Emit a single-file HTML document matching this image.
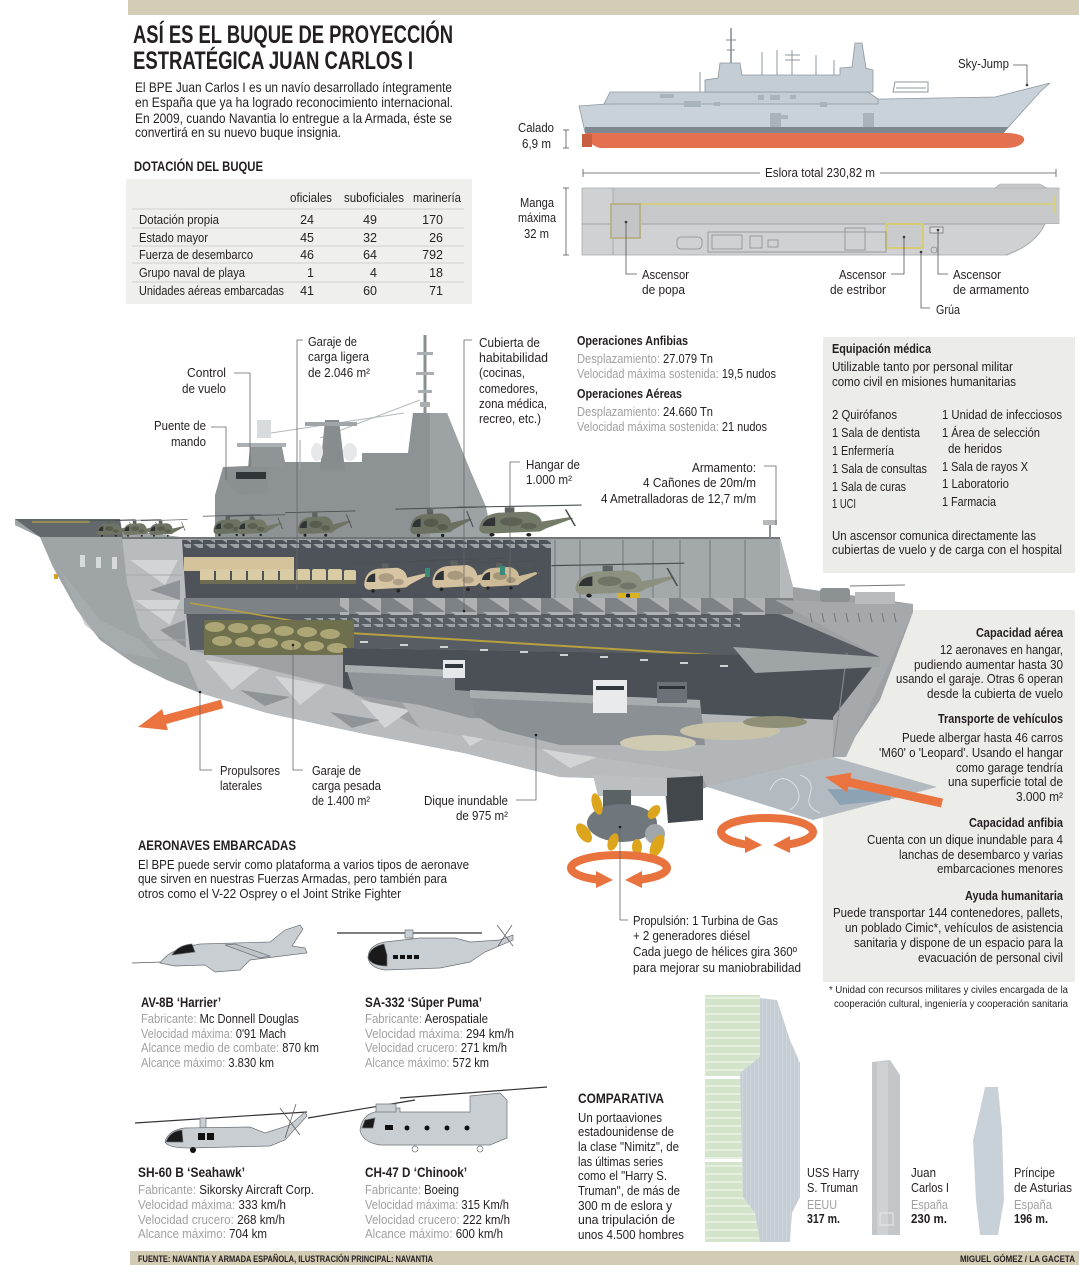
<!DOCTYPE html>
<html><head><meta charset="utf-8"><style>
html,body{margin:0;padding:0;background:#fff;}
svg{display:block;font-family:"Liberation Sans",sans-serif;font-size:13px;}
text{fill:#231f20;}
.b{font-weight:bold;}
.g{fill:#a0a0a0;}
</style></head><body>
<svg width="1079" height="1265" viewBox="0 0 1079 1265" xmlns="http://www.w3.org/2000/svg">
<defs>
<pattern id="saw" width="12" height="8" patternUnits="userSpaceOnUse"><path d="M1,0 h10 v7 z" fill="#9ca1a5"/></pattern>
<pattern id="tri" width="32" height="18" patternUnits="userSpaceOnUse"><path d="M3,0 h26 v18 z" fill="#aeb2b5"/></pattern>
<pattern id="grn" width="10" height="8" patternUnits="userSpaceOnUse"><rect width="10" height="8" fill="#d3e4cb"/><rect y="5" width="10" height="2" fill="#e4efdf"/></pattern>
<pattern id="vst" width="4" height="10" patternUnits="userSpaceOnUse"><rect width="4" height="10" fill="#c6ced5"/><rect x="2" width="1" height="10" fill="#ced5db"/></pattern>
<g id="heli">
 <line x1="-12" y1="3" x2="66" y2="1" stroke="#4a4f52" stroke-width="1"/>
 <rect x="18" y="3" width="6" height="5" fill="#5c625f"/>
 <path d="M2,22 Q3,10 14,8 L32,7 Q40,9 41,16 L58,12 L61,13 L44,22 L40,25 L6,27 Q2,26 2,22 Z"/>
 <ellipse cx="22" cy="16" rx="7" ry="4" fill="#000" fill-opacity="0.2"/>
 <ellipse cx="33" cy="20" rx="5" ry="3" fill="#000" fill-opacity="0.18"/>
 <path d="M4,20 Q5,13 12,12 L12,20 Z" fill="#2e3336"/>
 <line x1="56" y1="5" x2="62" y2="20" stroke="#4a4f52"/>
 <circle cx="10" cy="28" r="1.6" fill="#222"/><circle cx="33" cy="28" r="1.6" fill="#222"/>
</g>
</defs>

<!-- header / footer bands -->
<rect x="128" y="0" width="951" height="15" fill="#d3cdb6"/>
<rect x="130" y="1251" width="949" height="14" fill="#d2ccb4"/>

<!-- panels -->
<rect x="126" y="179" width="346" height="125" fill="#efefed"/>
<rect x="823" y="337" width="252" height="236" fill="#ecece8"/>
<rect x="823" y="610" width="252" height="372" fill="#ecece8"/>

<!-- ===== TOP RIGHT SIDE PROFILE ===== -->
<polygon points="579,106 606,104 995,97 1050,83 1040,92 1004,132 585,132" fill="#c9d2d9" stroke="#8d979f" stroke-width="0.8"/>
<polygon points="604,104 610,92 868,92 878,99 878,104" fill="#c4cdd4" stroke="#8d979f" stroke-width="0.8"/>
<polygon points="705,92 705,80 718,78 720,63 740,63 742,75 840,75 840,68 852,67 855,43 862,43 866,68 873,70 873,92" fill="#c4cdd4" stroke="#8d979f" stroke-width="0.8"/>
<line x1="731" y1="63" x2="731" y2="28" stroke="#7f8a92" stroke-width="1.5"/>
<line x1="726" y1="40" x2="736" y2="40" stroke="#7f8a92"/><line x1="727" y1="50" x2="735" y2="50" stroke="#7f8a92"/>
<g stroke="#8d979f" stroke-width="1">
<line x1="700" y1="92" x2="700" y2="72"/><line x1="762" y1="75" x2="762" y2="52"/><line x1="777" y1="75" x2="777" y2="50"/>
<line x1="816" y1="75" x2="816" y2="55"/><line x1="834" y1="75" x2="834" y2="60"/><line x1="785" y1="55" x2="800" y2="55"/>
<line x1="785" y1="60" x2="800" y2="60"/><line x1="792" y1="50" x2="792" y2="75"/>
</g>
<polygon points="893,92 895,82 928,82 928,92" fill="none" stroke="#8d979f"/>
<line x1="896" y1="88" x2="926" y2="88" stroke="#8d979f"/>
<g fill="#a9b3ba"><rect x="660" y="94" width="14" height="4"/><rect x="684" y="101" width="17" height="6"/><rect x="714" y="102" width="6" height="4"/>
<rect x="758" y="95" width="6" height="5"/><rect x="770" y="95" width="10" height="5"/><rect x="790" y="95" width="6" height="4"/><rect x="820" y="102" width="7" height="5"/>
<rect x="770" y="113" width="11" height="14"/><rect x="863" y="113" width="11" height="14"/><rect x="773" y="115" width="15" height="4"/></g>
<polygon points="585,127 1008,127 1004,133 585,133" fill="#7e8890"/>
<path d="M585,133 L1008,133 Q1026,134 1024,141 Q1020,148 1005,148 L600,148 Q592,146 588,140 Z" fill="#e3714f"/>
<rect x="582" y="134" width="10" height="13" fill="#c85f3f"/>

<!-- top-down plan -->
<rect x="582" y="188" width="477" height="67" fill="#cfd1d3" stroke="#a9abad" stroke-width="0.8"/>
<rect x="613" y="189" width="446" height="35" fill="#c6c8ca"/>
<line x1="582" y1="224" x2="1059" y2="224" stroke="#a2a4a6"/>
<line x1="613" y1="188" x2="613" y2="255" stroke="#a9abad"/>
<polygon points="995,188 1000,184 1040,184 1047,188" fill="#c6c8ca" stroke="#a9abad" stroke-width="0.6"/>
<line x1="640" y1="204" x2="1054" y2="204" stroke="#d6cf78" stroke-width="1.8"/>
<line x1="1054" y1="196" x2="1054" y2="213" stroke="#d6cf78" stroke-width="1.8"/>
<path d="M1006,256 Q1035,245 1045,224 L1060,224 L1060,256 Z" fill="#fff"/>
<path d="M1006,255 Q1035,245 1045,224" fill="none" stroke="#a9abad"/>
<rect x="611" y="204" width="29" height="34" fill="#c3c5c7" stroke="#b8b38a" stroke-width="2"/>
<rect x="886" y="224" width="37" height="24" fill="#c9cbcd" stroke="#d4cd72" stroke-width="2"/>
<rect x="930" y="227" width="13" height="6" fill="#dcdcdc" stroke="#777" stroke-width="0.8"/>
<g fill="none" stroke="#8a8c8e" stroke-width="0.8">
<rect x="677" y="237" width="25" height="12" rx="4"/><rect x="708" y="232" width="178" height="20"/>
<rect x="712" y="235" width="30" height="14"/><rect x="750" y="236" width="12" height="12"/><rect x="768" y="240" width="10" height="7"/>
<rect x="845" y="228" width="20" height="22"/><circle cx="934" cy="250" r="3"/>
</g>
<g fill="#333"><circle cx="626" cy="222" r="1.3"/><circle cx="904" cy="237" r="1.3"/><circle cx="921" cy="252" r="1.3"/><circle cx="938" cy="230" r="1.3"/><circle cx="1027" cy="85" r="1.3"/></g>
<g stroke="#555" stroke-width="0.8" fill="none">
<polyline points="626,222 626,274 637,274"/><polyline points="904,237 904,274 891,274"/>
<polyline points="921,252 921,308 930,308"/><polyline points="938,230 938,274 948,274"/>
<polyline points="1013,65 1027,65 1027,85"/>
<line x1="566" y1="130" x2="566" y2="148"/><line x1="563" y1="130" x2="569" y2="130"/><line x1="563" y1="148" x2="569" y2="148"/>
<line x1="566" y1="188" x2="566" y2="255"/><line x1="563" y1="188" x2="569" y2="188"/><line x1="563" y1="255" x2="569" y2="255"/>
<line x1="583" y1="173" x2="760" y2="173"/><line x1="880" y1="173" x2="1056" y2="173"/>
<line x1="583" y1="169" x2="583" y2="177"/><line x1="1056" y1="169" x2="1056" y2="177"/>
</g>

<!-- ===== MAIN CUTAWAY SHIP ===== -->
<polygon points="15,519 90,526 180,537 780,537 793,587 913,604 913,612 880,700 845,752 833,757 707,787 700,790 700,820 668,822 665,792 593,778 560,777 464,753 360,733 267,713 200,693 167,680 133,663 100,640 77,610 53,567 40,537 15,525" fill="#9da1a4"/>
<polygon points="15,519 90,526 180,537 122,537 127,583 140,627 157,647 187,663 200,693 167,680 133,663 100,640 77,610 53,567 40,537 15,525" fill="#9fa4a7"/>
<polygon points="15,519 120,519 123,537 40,537" fill="#62686c"/>
<line x1="32" y1="522" x2="90" y2="522" stroke="#b3a54a" stroke-width="1.2"/>
<polygon points="60,570 100,620 140,640 160,660 120,652 85,625" fill="#acb0b3" opacity="0.6"/>
<g fill="#d7dadc"><rect x="80" y="555" width="5" height="12"/><rect x="96" y="557" width="5" height="11"/><rect x="112" y="557" width="5" height="12"/></g>
<rect x="54" y="574" width="4" height="5" fill="#d4a21c"/>
<polygon points="122,537 182,537 186,600 190,650 343,688 420,728 560,752 700,772 700,790 593,778 560,777 464,753 360,733 267,713 200,693 187,663 157,647 140,627 127,583" fill="#b9bcbe"/>
<g fill="#d2d5d6"><polygon points="205,660 260,668 232,690"/><polygon points="275,676 325,685 300,705"/><polygon points="360,700 410,710 385,728"/><polygon points="450,720 500,730 470,746"/><polygon points="130,560 178,560 165,585"/><polygon points="135,600 180,600 170,625"/><polygon points="540,748 600,756 570,768"/></g>
<g fill="#8f9498"><polygon points="150,590 180,580 180,600"/><polygon points="160,630 185,620 186,648"/><polygon points="240,690 290,697 265,706"/><polygon points="330,712 380,720 352,728"/></g>
<g stroke="#a6aaac" stroke-width="1"><line x1="125" y1="575" x2="182" y2="575"/><line x1="130" y1="610" x2="185" y2="610"/><line x1="145" y1="640" x2="188" y2="640"/></g>
<polygon points="182,540 551,540 551,601 186,601" fill="#4d5358"/>
<rect x="184" y="540" width="367" height="8" fill="url(#saw)"/>
<rect x="551" y="537" width="229" height="63" fill="#a3a8ab"/>
<g stroke="#8a8f92" stroke-width="2"><line x1="555" y1="540" x2="555" y2="600"/><line x1="580" y1="540" x2="580" y2="600"/><line x1="623" y1="540" x2="623" y2="600"/><line x1="653" y1="540" x2="653" y2="600"/><line x1="680" y1="540" x2="680" y2="600"/><line x1="710" y1="540" x2="710" y2="600"/><line x1="745" y1="540" x2="745" y2="600"/></g>
<polygon points="780,537 793,587 793,601 780,601" fill="#b5b9bb"/>
<line x1="122" y1="538" x2="780" y2="538" stroke="#70767a" stroke-width="2"/>
<rect x="184" y="557" width="110" height="14" fill="#d4c39a"/>
<g fill="#d9cba3"><rect x="200" y="569" width="14" height="13" rx="2"/><rect x="216" y="569" width="14" height="13" rx="2"/><rect x="232" y="569" width="14" height="13" rx="2"/><rect x="248" y="569" width="14" height="13" rx="2"/><rect x="264" y="569" width="14" height="13" rx="2"/><rect x="280" y="569" width="14" height="13" rx="2"/><rect x="296" y="569" width="14" height="13" rx="2"/><rect x="312" y="569" width="14" height="13" rx="2"/><rect x="328" y="569" width="14" height="13" rx="2"/><rect x="344" y="570" width="12" height="12" rx="2"/></g>
<rect x="200" y="580" width="156" height="4" fill="#6f6a52"/>
<use href="#heli" transform="translate(362,560) scale(1.1)" fill="#d6c4a3"/>
<use href="#heli" transform="translate(430,557) scale(1.15)" fill="#d2c09e"/>
<use href="#heli" transform="translate(478,560) scale(1.0)" fill="#cdbb98"/>
<g fill="#3a8a7c"><rect x="425" y="568" width="5" height="9"/><rect x="500" y="566" width="5" height="9"/></g>
<use href="#heli" transform="translate(572,562) scale(1.7,1.2)" fill="#8c917f"/>
<g fill="#d9b21f"><rect x="617" y="593" width="9" height="12"/><rect x="630" y="593" width="9" height="12"/></g>
<polygon points="186,612 775,612 880,657 343,648 190,650" fill="#575d62"/>
<rect x="184" y="598" width="609" height="16" fill="#7d8286"/>
<rect x="340" y="598" width="430" height="17" fill="url(#tri)"/>
<rect x="300" y="618" width="440" height="9" fill="url(#saw)"/>
<line x1="190" y1="603" x2="300" y2="622" stroke="#b8a040" stroke-width="1.6"/>
<line x1="300" y1="630" x2="745" y2="657" stroke="#b8a040" stroke-width="2"/>
<rect x="204" y="620" width="150" height="35" fill="#6e6f4c"/>
<g fill="#aca676"><ellipse cx="215" cy="627" rx="10" ry="5"/><ellipse cx="238" cy="628" rx="10" ry="5"/><ellipse cx="261" cy="629" rx="10" ry="5"/><ellipse cx="284" cy="631" rx="10" ry="5"/><ellipse cx="307" cy="632" rx="10" ry="5"/><ellipse cx="330" cy="634" rx="10" ry="5"/>
<ellipse cx="222" cy="641" rx="10" ry="5"/><ellipse cx="245" cy="642" rx="10" ry="5"/><ellipse cx="268" cy="643" rx="10" ry="5"/><ellipse cx="291" cy="645" rx="10" ry="5"/><ellipse cx="314" cy="646" rx="10" ry="5"/><ellipse cx="337" cy="648" rx="10" ry="5"/></g>
<polygon points="343,648 880,657 835,720 620,718 420,702 343,688" fill="#4a5055"/>
<g stroke="#f2f2f2" stroke-width="1.6"><line x1="360" y1="642" x2="368" y2="642"/><line x1="400" y1="645" x2="408" y2="645"/><line x1="440" y1="647" x2="448" y2="647"/><line x1="480" y1="650" x2="488" y2="650"/><line x1="520" y1="652" x2="528" y2="652"/><line x1="560" y1="655" x2="568" y2="655"/><line x1="600" y1="657" x2="608" y2="657"/><line x1="640" y1="660" x2="648" y2="660"/><line x1="680" y1="663" x2="688" y2="663"/><line x1="720" y1="666" x2="728" y2="666"/></g>
<polygon points="400,700 835,720 833,757 707,787 700,772 560,752 420,728" fill="#b2b6b8"/>
<polygon points="345,665 455,670 455,690 600,700 600,722 470,718 420,705 355,695" fill="#8e9498"/>
<polygon points="345,665 455,670 455,677 345,672" fill="#a9aeb1"/>
<rect x="443" y="660" width="22" height="18" fill="#e5e8ea"/><rect x="445" y="664" width="18" height="4" fill="#30363a"/>
<polygon points="470,690 700,700 705,745 560,745 500,730 475,715" fill="#8a9094"/>
<polygon points="470,690 700,700 700,708 470,698" fill="#a7acaf"/>
<polygon points="593,680 627,680 627,713 593,713" fill="#e8eaec"/><rect x="596" y="686" width="28" height="4" fill="#30363a"/>
<rect x="657" y="682" width="30" height="21" fill="#6b7176"/><rect x="659" y="686" width="26" height="3" fill="#2c3236"/>
<ellipse cx="658" cy="743" rx="38" ry="8" fill="#cfcbb2"/>
<ellipse cx="730" cy="731" rx="50" ry="9" fill="#c8c3a8"/>
<ellipse cx="775" cy="722" rx="32" ry="6" fill="#8e8f74"/>
<polygon points="775,600 913,604 913,612 846,757 833,757 833,717 880,657" fill="#a5a9ac"/>
<g stroke="#6f7579" stroke-width="1"><line x1="810" y1="613" x2="812" y2="622"/><line x1="822" y1="613" x2="824" y2="622"/><line x1="834" y1="613" x2="836" y2="622"/><line x1="846" y1="613" x2="848" y2="622"/><line x1="858" y1="613" x2="860" y2="622"/><line x1="870" y1="613" x2="872" y2="622"/><line x1="882" y1="613" x2="884" y2="622"/><line x1="894" y1="613" x2="896" y2="622"/></g>
<line x1="847" y1="653" x2="833" y2="757" stroke="#8a8f92"/>
<polygon points="733,647 880,657 880,667 755,673" fill="#9fa4a7"/>
<rect x="820" y="588" width="30" height="14" rx="3" fill="#8c9194"/>
<rect x="855" y="592" width="40" height="12" fill="#b8bcbe"/>
<line x1="850" y1="586" x2="905" y2="585" stroke="#777" stroke-width="1"/>
<line x1="770" y1="520" x2="770" y2="538" stroke="#8a8f92" stroke-width="2"/><rect x="763" y="520" width="14" height="5" fill="#b5b9bb"/>
<polygon points="665,778 703,776 703,820 668,823" fill="#41474b"/>
<polygon points="593,775 667,778 667,796 598,796" fill="#bcc0c2"/>
<polygon points="707,787 833,757 937,787 813,820" fill="#b3bbc1"/>
<path d="M770,790 q10,-20 25,-5 q10,15 -5,25 M800,775 q15,5 10,20 q-5,12 10,18" fill="none" stroke="#e3e8ec" stroke-width="0.8"/>
<polygon points="827,789 893,790 890,800 840,805" fill="#8ca3b6"/>

<!-- island -->
<line x1="425" y1="335" x2="425" y2="413" stroke="#8a8f92" stroke-width="3"/>
<g fill="#a9aeb1"><rect x="417" y="352" width="16" height="3"/><rect x="416" y="372" width="18" height="3"/><rect x="418" y="390" width="14" height="3"/><rect x="420" y="402" width="10" height="5"/></g>
<line x1="271" y1="433" x2="404" y2="413" stroke="#b5b9bb" stroke-width="1"/>
<line x1="320" y1="438" x2="420" y2="400" stroke="#b5b9bb" stroke-width="1"/>
<polygon points="215,537 215,495 223,467 270,465 285,462 362,462 362,453 408,453 413,413 447,413 470,470 486,507 492,537" fill="#8d9295"/>
<polygon points="430,413 447,413 470,470 486,507 492,537 430,537" fill="#9da2a5"/>
<polygon points="223,467 268,467 268,493 240,495 228,485" fill="#8a8f92"/>
<rect x="236" y="472" width="30" height="7" fill="#2f3538"/>
<polygon points="250,447 282,447 286,467 248,467" fill="#8f9497"/>
<rect x="237" y="443" width="49" height="4" fill="#aab0b3"/>
<rect x="257" y="420" width="14" height="18" fill="#d8dbdd"/>
<polygon points="325,420 339,420 345,470 320,470" fill="#878c8f"/>
<rect x="305" y="422" width="52" height="4" fill="#a0a5a8"/>
<ellipse cx="317" cy="452" rx="6" ry="9" fill="#e6e8e9"/>
<ellipse cx="350" cy="452" rx="7" ry="9" fill="#e6e8e9"/>
<line x1="300" y1="440" x2="300" y2="470" stroke="#a0a5a8"/>
<use href="#heli" transform="translate(96,519) scale(0.6)" fill="#6e7463"/>
<use href="#heli" transform="translate(122,519) scale(0.6)" fill="#727866"/>
<use href="#heli" transform="translate(148,519) scale(0.6)" fill="#6e7463"/>
<use href="#heli" transform="translate(212,514) scale(0.75)" fill="#6b7160"/>
<use href="#heli" transform="translate(236,514) scale(0.75)" fill="#727866"/>
<use href="#heli" transform="translate(296,510) scale(0.9)" fill="#6e7463"/>
<use href="#heli" transform="translate(408,506) scale(1.05)" fill="#6b7160"/>
<use href="#heli" transform="translate(476,504) scale(1.6,1.1)" fill="#747a68"/>

<!-- arrows -->
<polygon points="138,727 162.1,709 163.8,715.3 220.8,699.7 223.2,708.3 166.2,724 167.9,730.2" fill="#ea7340"/>
<polygon points="825,777 851.6,772.6 850.4,778 943,798.6 941,807.4 848.4,786.8 847.2,792.2" fill="#ea7340"/>
<path d="M747.6,844.7 A46,14 0 1 1 786.4,844.7" fill="none" stroke="#e8733f" stroke-width="8"/>
<polygon points="745,836 745,853 762,845" fill="#e8733f"/><polygon points="790,836 790,853 773,845" fill="#e8733f"/>
<rect x="603" y="790" width="28" height="18" fill="#5a6266"/>
<ellipse cx="622" cy="823" rx="35" ry="19" fill="#6f777c"/>
<circle cx="655" cy="834" r="10" fill="#a0a6a9"/>
<g fill="#dca51c"><ellipse cx="597" cy="804" rx="5" ry="11" transform="rotate(-15 597 804)"/><ellipse cx="584" cy="833" rx="6" ry="11" transform="rotate(-35 584 833)"/><ellipse cx="613" cy="842" rx="5" ry="9" transform="rotate(20 613 842)"/><ellipse cx="657" cy="846" rx="6" ry="12" transform="rotate(25 657 846)"/><ellipse cx="637" cy="847" rx="5" ry="8"/><ellipse cx="654" cy="812" rx="5" ry="8" transform="rotate(40 654 812)"/></g>
<path d="M598.7,879.8 A48,13 0 1 1 639.3,879.8" fill="none" stroke="#e8733f" stroke-width="8"/>
<polygon points="596,871 596,888 613,880" fill="#e8733f"/><polygon points="642,871 642,888 625,880" fill="#e8733f"/>

<!-- leader lines main -->
<g stroke="#666" stroke-width="0.8" fill="none">
<polyline points="234,373 250,373 250,467"/><polyline points="211,427 226,427 226,480"/>
<polyline points="303,340 297,340 297,590"/><polyline points="472,340 464,340 464,611"/>
<polyline points="520,462 510,462 510,583"/><polyline points="764,466 776,466 776,525"/>
<polyline points="200,692 200,770 212,770"/><polyline points="293,645 293,770 303,770"/>
<polyline points="536,735 536,800 516,800"/><polyline points="620,827 620,920 628,920"/>
</g>
<g fill="#222"><circle cx="200" cy="692" r="1.3"/><circle cx="293" cy="645" r="1.3"/><circle cx="536" cy="735" r="1.3"/><circle cx="620" cy="827" r="1.3"/><circle cx="464" cy="611" r="1.3"/></g>

<!-- aircraft drawings -->
<g stroke="#6c7177" stroke-width="0.7">
<line x1="132" y1="963" x2="162" y2="962" stroke="#555"/>
<path d="M160,963 Q168,952 185,947 L200,944 L270,942 L285,930 L300,925 L303,929 L292,946 L305,948 L307,953 L290,955 L250,960 L240,970 L215,972 L205,965 L175,966 Z" fill="#c9ced3"/>
<path d="M172,955 Q178,945 192,944 L195,952 Z" fill="#1a1a1a"/>
<path d="M225,945 L260,958 L270,956 L235,944 Z" fill="#bfc4c9"/>
<line x1="337" y1="933" x2="482" y2="933" stroke="#333" stroke-width="1.2"/>
<rect x="405" y="930" width="8" height="8" fill="#c9ced3"/>
<path d="M368,958 Q368,945 385,942 L420,938 L455,938 L470,942 L500,940 L513,935 L513,940 L485,952 L470,962 L440,968 L385,970 Q370,968 368,958 Z" fill="#c9ced3"/>
<path d="M368,958 Q369,947 384,944 L387,955 L387,966 Q372,966 368,958 Z" fill="#1a1a1a"/>
<line x1="497" y1="925" x2="513" y2="946" stroke="#555"/><line x1="512" y1="925" x2="498" y2="946" stroke="#555"/>
<line x1="135" y1="1123" x2="307" y2="1112" stroke="#333" stroke-width="1.2"/>
<rect x="200" y="1118" width="6" height="10" fill="#c9ced3"/>
<path d="M165,1142 Q168,1130 185,1128 L250,1127 L265,1133 L290,1125 L305,1112 L307,1116 L285,1140 L270,1146 L190,1148 Q168,1148 165,1142 Z" fill="#c9ced3"/>
<path d="M166,1142 Q170,1131 182,1130 L183,1142 Z" fill="#1a1a1a"/>
<line x1="280" y1="1108" x2="300" y2="1135" stroke="#555"/><line x1="296" y1="1104" x2="285" y2="1138" stroke="#555"/>
<line x1="308" y1="1118" x2="415" y2="1100" stroke="#333" stroke-width="1.2"/>
<line x1="400" y1="1098" x2="547" y2="1087" stroke="#333" stroke-width="1.2"/>
<path d="M360,1130 Q362,1115 375,1112 L385,1108 L400,1108 L400,1112 L470,1112 L470,1096 L500,1093 L507,1100 L507,1138 L490,1145 L380,1145 Q362,1142 360,1130 Z" fill="#c9ced3"/>
<rect x="376" y="1104" width="20" height="8" fill="#c9ced3"/>
<path d="M362,1128 L365,1120 L375,1118 L373,1128 Z" fill="#1a1a1a"/>
<circle cx="415" cy="1149" r="3" fill="#fff"/><circle cx="480" cy="1149" r="3" fill="#fff"/>
</g>
<g fill="#111"><rect x="393" y="955" width="5" height="4"/><rect x="400" y="955" width="5" height="4"/><rect x="407" y="955" width="5" height="4"/><rect x="414" y="955" width="5" height="4"/>
<rect x="198" y="1133" width="7" height="7"/><rect x="207" y="1133" width="7" height="7"/><circle cx="193" cy="1150" r="3"/>
<rect x="385" y="1125" width="8" height="5"/><circle cx="407" cy="1128" r="2.5"/><circle cx="427" cy="1128" r="2.5"/><circle cx="447" cy="1128" r="2.5"/><circle cx="467" cy="1128" r="2.5"/></g>

<!-- comparativa ships -->
<rect x="705" y="995" width="55" height="247" fill="url(#grn)"/>
<rect x="705" y="1076" width="55" height="3" fill="#fff"/><rect x="705" y="1159" width="55" height="3" fill="#fff"/>
<polygon points="760,998 777,1000 790,1040 800,1063 800,1197 792,1213 790,1242 760,1242 755,1213 743,1197 740,1073 760,1057" fill="url(#vst)"/>
<polygon points="872,1062 890,1060 900,1075 900,1235 872,1235" fill="#c4c7ca"/>
<rect x="877" y="1062" width="11" height="173" fill="#cfd2d4"/>
<rect x="880" y="1213" width="13" height="12" fill="none" stroke="#e8e8e8"/>
<polygon points="985,1087 998,1087 1002,1130 1004,1200 998,1235 980,1235 976,1200 973,1140 980,1110" fill="#c9d1d8"/>

<!-- ===== TEXT ===== -->
<text x="133" y="43" class="b" font-size="25" textLength="320" lengthAdjust="spacingAndGlyphs">ASÍ ES EL BUQUE DE PROYECCIÓN</text>
<text x="133" y="69" class="b" font-size="25" textLength="280" lengthAdjust="spacingAndGlyphs">ESTRATÉGICA JUAN CARLOS I</text>
<text x="135" y="92" font-size="14" textLength="317" lengthAdjust="spacingAndGlyphs">El BPE Juan Carlos I es un navío desarrollado íntegramente</text>
<text x="135" y="107" font-size="14" textLength="318" lengthAdjust="spacingAndGlyphs">en España que ya ha logrado reconocimiento internacional.</text>
<text x="135" y="123" font-size="14" textLength="317" lengthAdjust="spacingAndGlyphs">En 2009, cuando Navantia lo entregue a la Armada, éste se</text>
<text x="135" y="137" font-size="14" textLength="206" lengthAdjust="spacingAndGlyphs">convertirá en su nuevo buque insignia.</text>
<text x="134" y="171" class="b" font-size="14" textLength="129" lengthAdjust="spacingAndGlyphs">DOTACIÓN DEL BUQUE</text>

<text x="290" y="202" font-size="12.5" textLength="42" lengthAdjust="spacingAndGlyphs">oficiales</text>
<text x="344" y="202" font-size="12.5" textLength="60" lengthAdjust="spacingAndGlyphs">suboficiales</text>
<text x="413" y="202" font-size="12.5" textLength="48" lengthAdjust="spacingAndGlyphs">marinería</text>
<g stroke="#c8c8c8" stroke-width="0.8"><line x1="132" y1="209" x2="464" y2="209"/><line x1="132" y1="228" x2="464" y2="228"/><line x1="132" y1="246" x2="464" y2="246"/><line x1="132" y1="263" x2="464" y2="263"/><line x1="132" y1="282" x2="464" y2="282"/></g>
<text x="139" y="224" font-size="12.5" textLength="80" lengthAdjust="spacingAndGlyphs">Dotación propia</text>
<text x="139" y="242" font-size="12.5" textLength="69" lengthAdjust="spacingAndGlyphs">Estado mayor</text>
<text x="139" y="259" font-size="12.5" textLength="114" lengthAdjust="spacingAndGlyphs">Fuerza de desembarco</text>
<text x="139" y="277" font-size="12.5" textLength="106" lengthAdjust="spacingAndGlyphs">Grupo naval de playa</text>
<text x="139" y="295" font-size="12.5" textLength="145" lengthAdjust="spacingAndGlyphs">Unidades aéreas embarcadas</text>
<g text-anchor="end" font-size="12.5">
<text x="314" y="224">24</text><text x="377" y="224">49</text><text x="443" y="224">170</text>
<text x="314" y="242">45</text><text x="377" y="242">32</text><text x="443" y="242">26</text>
<text x="314" y="259">46</text><text x="377" y="259">64</text><text x="443" y="259">792</text>
<text x="314" y="277">1</text><text x="377" y="277">4</text><text x="443" y="277">18</text>
<text x="314" y="295">41</text><text x="377" y="295">60</text><text x="443" y="295">71</text>
</g>

<text x="958" y="68" textLength="51" lengthAdjust="spacingAndGlyphs">Sky-Jump</text>
<text x="518" y="132" textLength="36" lengthAdjust="spacingAndGlyphs">Calado</text>
<text x="522" y="148" textLength="29" lengthAdjust="spacingAndGlyphs">6,9 m</text>
<text x="765" y="177" textLength="110" lengthAdjust="spacingAndGlyphs">Eslora total 230,82 m</text>
<text x="520" y="207" textLength="34" lengthAdjust="spacingAndGlyphs">Manga</text>
<text x="518" y="222" textLength="38" lengthAdjust="spacingAndGlyphs">máxima</text>
<text x="524" y="238" textLength="25" lengthAdjust="spacingAndGlyphs">32 m</text>
<text x="642" y="279" textLength="47" lengthAdjust="spacingAndGlyphs">Ascensor</text>
<text x="642" y="294" textLength="43" lengthAdjust="spacingAndGlyphs">de popa</text>
<text x="839" y="279" textLength="47" lengthAdjust="spacingAndGlyphs">Ascensor</text>
<text x="830" y="294" textLength="56" lengthAdjust="spacingAndGlyphs">de estribor</text>
<text x="953" y="279" textLength="48" lengthAdjust="spacingAndGlyphs">Ascensor</text>
<text x="953" y="294" textLength="76" lengthAdjust="spacingAndGlyphs">de armamento</text>
<text x="936" y="314" textLength="24" lengthAdjust="spacingAndGlyphs">Grúa</text>

<text x="187" y="377" textLength="39" lengthAdjust="spacingAndGlyphs">Control</text>
<text x="182" y="393" textLength="44" lengthAdjust="spacingAndGlyphs">de vuelo</text>
<text x="154" y="430" textLength="52" lengthAdjust="spacingAndGlyphs">Puente de</text>
<text x="171" y="446" textLength="35" lengthAdjust="spacingAndGlyphs">mando</text>
<text x="308" y="346" textLength="49" lengthAdjust="spacingAndGlyphs">Garaje de</text>
<text x="308" y="361" textLength="61" lengthAdjust="spacingAndGlyphs">carga ligera</text>
<text x="308" y="377" textLength="62" lengthAdjust="spacingAndGlyphs">de 2.046 m²</text>
<text x="479" y="347" textLength="61" lengthAdjust="spacingAndGlyphs">Cubierta de</text>
<text x="479" y="362" textLength="69" lengthAdjust="spacingAndGlyphs">habitabilidad</text>
<text x="479" y="377" textLength="46" lengthAdjust="spacingAndGlyphs">(cocinas,</text>
<text x="479" y="393" textLength="59" lengthAdjust="spacingAndGlyphs">comedores,</text>
<text x="479" y="408" textLength="68" lengthAdjust="spacingAndGlyphs">zona médica,</text>
<text x="479" y="423" textLength="62" lengthAdjust="spacingAndGlyphs">recreo, etc.)</text>
<text x="526" y="469" textLength="54" lengthAdjust="spacingAndGlyphs">Hangar de</text>
<text x="526" y="484" textLength="46" lengthAdjust="spacingAndGlyphs">1.000 m²</text>

<text x="577" y="345" class="b" textLength="111" lengthAdjust="spacingAndGlyphs">Operaciones Anfibias</text>
<text x="577" y="363" textLength="136" lengthAdjust="spacingAndGlyphs"><tspan class="g">Desplazamiento: </tspan>27.079 Tn</text>
<text x="577" y="378" textLength="199" lengthAdjust="spacingAndGlyphs"><tspan class="g">Velocidad máxima sostenida: </tspan>19,5 nudos</text>
<text x="577" y="398" class="b" textLength="105" lengthAdjust="spacingAndGlyphs">Operaciones Aéreas</text>
<text x="577" y="416" textLength="136" lengthAdjust="spacingAndGlyphs"><tspan class="g">Desplazamiento: </tspan>24.660 Tn</text>
<text x="577" y="431" textLength="190" lengthAdjust="spacingAndGlyphs"><tspan class="g">Velocidad máxima sostenida: </tspan>21 nudos</text>
<text x="692" y="472" textLength="64" lengthAdjust="spacingAndGlyphs">Armamento:</text>
<text x="643" y="487" textLength="113" lengthAdjust="spacingAndGlyphs">4 Cañones de 20m/m</text>
<text x="601" y="503" textLength="155" lengthAdjust="spacingAndGlyphs">4 Ametralladoras de 12,7 m/m</text>

<text x="832" y="353" class="b" textLength="99" lengthAdjust="spacingAndGlyphs">Equipación médica</text>
<text x="832" y="371" textLength="181" lengthAdjust="spacingAndGlyphs">Utilizable tanto por personal militar</text>
<text x="832" y="386" textLength="184" lengthAdjust="spacingAndGlyphs">como civil en misiones humanitarias</text>
<text x="832" y="419" textLength="65" lengthAdjust="spacingAndGlyphs">2 Quirófanos</text>
<text x="832" y="437" textLength="88" lengthAdjust="spacingAndGlyphs">1 Sala de dentista</text>
<text x="832" y="455" textLength="62" lengthAdjust="spacingAndGlyphs">1 Enfermería</text>
<text x="832" y="473" textLength="95" lengthAdjust="spacingAndGlyphs">1 Sala de consultas</text>
<text x="832" y="491" textLength="74" lengthAdjust="spacingAndGlyphs">1 Sala de curas</text>
<text x="832" y="508" textLength="24" lengthAdjust="spacingAndGlyphs">1 UCI</text>
<text x="942" y="419" textLength="120" lengthAdjust="spacingAndGlyphs">1 Unidad de infecciosos</text>
<text x="942" y="437" textLength="98" lengthAdjust="spacingAndGlyphs">1 Área de selección</text>
<text x="948" y="453" textLength="54" lengthAdjust="spacingAndGlyphs">de heridos</text>
<text x="942" y="471" textLength="86" lengthAdjust="spacingAndGlyphs">1 Sala de rayos X</text>
<text x="942" y="488" textLength="67" lengthAdjust="spacingAndGlyphs">1 Laboratorio</text>
<text x="942" y="506" textLength="54" lengthAdjust="spacingAndGlyphs">1 Farmacia</text>
<text x="832" y="540" textLength="204" lengthAdjust="spacingAndGlyphs">Un ascensor comunica directamente las</text>
<text x="832" y="554" textLength="230" lengthAdjust="spacingAndGlyphs">cubiertas de vuelo y de carga con el hospital</text>

<text x="976" y="637" class="b" textLength="87" lengthAdjust="spacingAndGlyphs">Capacidad aérea</text>
<text x="940" y="654" textLength="123" lengthAdjust="spacingAndGlyphs">12 aeronaves en hangar,</text>
<text x="914" y="669" textLength="149" lengthAdjust="spacingAndGlyphs">pudiendo aumentar hasta 30</text>
<text x="896" y="683" textLength="167" lengthAdjust="spacingAndGlyphs">usando el garaje. Otras 6 operan</text>
<text x="927" y="698" textLength="136" lengthAdjust="spacingAndGlyphs">desde la cubierta de vuelo</text>
<text x="938" y="723" class="b" textLength="125" lengthAdjust="spacingAndGlyphs">Transporte de vehículos</text>
<text x="902" y="742" textLength="161" lengthAdjust="spacingAndGlyphs">Puede albergar hasta 46 carros</text>
<text x="879" y="757" textLength="184" lengthAdjust="spacingAndGlyphs">'M60' o 'Leopard'. Usando el hangar</text>
<text x="956" y="772" textLength="107" lengthAdjust="spacingAndGlyphs">como garage tendría</text>
<text x="948" y="786" textLength="115" lengthAdjust="spacingAndGlyphs">una superficie total de</text>
<text x="1016" y="801" textLength="47" lengthAdjust="spacingAndGlyphs">3.000 m²</text>
<text x="969" y="827" class="b" textLength="94" lengthAdjust="spacingAndGlyphs">Capacidad anfibia</text>
<text x="867" y="844" textLength="196" lengthAdjust="spacingAndGlyphs">Cuenta con un dique inundable para 4</text>
<text x="899" y="859" textLength="164" lengthAdjust="spacingAndGlyphs">lanchas de desembarco y varias</text>
<text x="937" y="873" textLength="126" lengthAdjust="spacingAndGlyphs">embarcaciones menores</text>
<text x="965" y="900" class="b" textLength="98" lengthAdjust="spacingAndGlyphs">Ayuda humanitaria</text>
<text x="833" y="917" textLength="230" lengthAdjust="spacingAndGlyphs">Puede transportar 144 contenedores, pallets,</text>
<text x="845" y="932" textLength="218" lengthAdjust="spacingAndGlyphs">un poblado Cimic*, vehículos de asistencia</text>
<text x="854" y="947" textLength="209" lengthAdjust="spacingAndGlyphs">sanitaria y dispone de un espacio para la</text>
<text x="918" y="962" textLength="145" lengthAdjust="spacingAndGlyphs">evacuación de personal civil</text>
<text x="829" y="993" font-size="10" textLength="239" lengthAdjust="spacingAndGlyphs">* Unidad con recursos militares y civiles encargada de la</text>
<text x="834" y="1007" font-size="10" textLength="234" lengthAdjust="spacingAndGlyphs">cooperación cultural, ingeniería y cooperación sanitaria</text>

<text x="633" y="925" textLength="145" lengthAdjust="spacingAndGlyphs">Propulsión: 1 Turbina de Gas</text>
<text x="633" y="940" textLength="117" lengthAdjust="spacingAndGlyphs">+ 2 generadores diésel</text>
<text x="633" y="956" textLength="164" lengthAdjust="spacingAndGlyphs">Cada juego de hélices gira 360º</text>
<text x="633" y="972" textLength="168" lengthAdjust="spacingAndGlyphs">para mejorar su maniobrabilidad</text>

<text x="220" y="775" textLength="60" lengthAdjust="spacingAndGlyphs">Propulsores</text>
<text x="220" y="790" textLength="42" lengthAdjust="spacingAndGlyphs">laterales</text>
<text x="312" y="775" textLength="49" lengthAdjust="spacingAndGlyphs">Garaje de</text>
<text x="312" y="790" textLength="69" lengthAdjust="spacingAndGlyphs">carga pesada</text>
<text x="312" y="805" textLength="58" lengthAdjust="spacingAndGlyphs">de 1.400 m²</text>
<text x="424" y="805" textLength="84" lengthAdjust="spacingAndGlyphs">Dique inundable</text>
<text x="456" y="820" textLength="52" lengthAdjust="spacingAndGlyphs">de 975 m²</text>

<text x="138" y="850" class="b" font-size="13.5" textLength="158" lengthAdjust="spacingAndGlyphs">AERONAVES EMBARCADAS</text>
<text x="138" y="869" textLength="331" lengthAdjust="spacingAndGlyphs">El BPE puede servir como plataforma a varios tipos de aeronave</text>
<text x="138" y="883" textLength="309" lengthAdjust="spacingAndGlyphs">que sirven en nuestras Fuerzas Armadas, pero también para</text>
<text x="138" y="898" textLength="263" lengthAdjust="spacingAndGlyphs">otros como el V-22 Osprey o el Joint Strike Fighter</text>

<text x="141" y="1007" class="b" font-size="14" textLength="80" lengthAdjust="spacingAndGlyphs">AV-8B ‘Harrier’</text>
<text x="141" y="1023" textLength="158" lengthAdjust="spacingAndGlyphs"><tspan class="g">Fabricante: </tspan>Mc Donnell Douglas</text>
<text x="141" y="1038" textLength="145" lengthAdjust="spacingAndGlyphs"><tspan class="g">Velocidad máxima: </tspan>0'91 Mach</text>
<text x="141" y="1052" textLength="178" lengthAdjust="spacingAndGlyphs"><tspan class="g">Alcance medio de combate: </tspan>870 km</text>
<text x="141" y="1067" textLength="133" lengthAdjust="spacingAndGlyphs"><tspan class="g">Alcance máximo: </tspan>3.830 km</text>
<text x="365" y="1007" class="b" font-size="14" textLength="117" lengthAdjust="spacingAndGlyphs">SA-332 ‘Súper Puma’</text>
<text x="365" y="1023" textLength="123" lengthAdjust="spacingAndGlyphs"><tspan class="g">Fabricante: </tspan>Aerospatiale</text>
<text x="365" y="1038" textLength="149" lengthAdjust="spacingAndGlyphs"><tspan class="g">Velocidad máxima: </tspan> 294 km/h</text>
<text x="365" y="1052" textLength="142" lengthAdjust="spacingAndGlyphs"><tspan class="g">Velocidad crucero: </tspan>271 km/h</text>
<text x="365" y="1067" textLength="124" lengthAdjust="spacingAndGlyphs"><tspan class="g">Alcance máximo: </tspan>572 km</text>

<text x="138" y="1177" class="b" font-size="14" textLength="107" lengthAdjust="spacingAndGlyphs">SH-60 B ‘Seahawk’</text>
<text x="138" y="1194" textLength="176" lengthAdjust="spacingAndGlyphs"><tspan class="g">Fabricante: </tspan>Sikorsky Aircraft Corp.</text>
<text x="138" y="1209" textLength="148" lengthAdjust="spacingAndGlyphs"><tspan class="g">Velocidad máxima: </tspan>333 km/h</text>
<text x="138" y="1224" textLength="147" lengthAdjust="spacingAndGlyphs"><tspan class="g">Velocidad crucero: </tspan>268 km/h</text>
<text x="138" y="1238" textLength="129" lengthAdjust="spacingAndGlyphs"><tspan class="g">Alcance máximo: </tspan>704 km</text>
<text x="365" y="1177" class="b" font-size="14" textLength="102" lengthAdjust="spacingAndGlyphs">CH-47 D ‘Chinook’</text>
<text x="365" y="1194" textLength="94" lengthAdjust="spacingAndGlyphs"><tspan class="g">Fabricante: </tspan>Boeing</text>
<text x="365" y="1209" textLength="144" lengthAdjust="spacingAndGlyphs"><tspan class="g">Velocidad máxima: </tspan>315 Km/h</text>
<text x="365" y="1224" textLength="145" lengthAdjust="spacingAndGlyphs"><tspan class="g">Velocidad crucero: </tspan>222 km/h</text>
<text x="365" y="1238" textLength="138" lengthAdjust="spacingAndGlyphs"><tspan class="g">Alcance máximo: </tspan>600 km/h</text>

<text x="578" y="1103" class="b" font-size="13.5" textLength="86" lengthAdjust="spacingAndGlyphs">COMPARATIVA</text>
<text x="578" y="1122" textLength="84" lengthAdjust="spacingAndGlyphs">Un portaaviones</text>
<text x="578" y="1136" textLength="96" lengthAdjust="spacingAndGlyphs">estadounidense de</text>
<text x="578" y="1151" textLength="101" lengthAdjust="spacingAndGlyphs">la clase "Nimitz", de</text>
<text x="578" y="1166" textLength="85" lengthAdjust="spacingAndGlyphs">las últimas series</text>
<text x="578" y="1180" textLength="89" lengthAdjust="spacingAndGlyphs">como el "Harry S.</text>
<text x="578" y="1195" textLength="102" lengthAdjust="spacingAndGlyphs">Truman", de más de</text>
<text x="578" y="1210" textLength="94" lengthAdjust="spacingAndGlyphs">300 m de eslora y</text>
<text x="578" y="1224" textLength="97" lengthAdjust="spacingAndGlyphs">una tripulación de</text>
<text x="578" y="1239" textLength="106" lengthAdjust="spacingAndGlyphs">unos 4.500 hombres</text>

<text x="807" y="1177" textLength="52" lengthAdjust="spacingAndGlyphs">USS Harry</text>
<text x="807" y="1192" textLength="51" lengthAdjust="spacingAndGlyphs">S. Truman</text>
<text x="807" y="1209" class="g" textLength="30" lengthAdjust="spacingAndGlyphs">EEUU</text>
<text x="807" y="1223" class="b" textLength="33" lengthAdjust="spacingAndGlyphs">317 m.</text>
<text x="911" y="1177" textLength="25" lengthAdjust="spacingAndGlyphs">Juan</text>
<text x="911" y="1192" textLength="38" lengthAdjust="spacingAndGlyphs">Carlos I</text>
<text x="911" y="1209" class="g" textLength="37" lengthAdjust="spacingAndGlyphs">España</text>
<text x="911" y="1223" class="b" textLength="36" lengthAdjust="spacingAndGlyphs">230 m.</text>
<text x="1014" y="1177" textLength="41" lengthAdjust="spacingAndGlyphs">Príncipe</text>
<text x="1014" y="1192" textLength="58" lengthAdjust="spacingAndGlyphs">de Asturias</text>
<text x="1014" y="1209" class="g" textLength="38" lengthAdjust="spacingAndGlyphs">España</text>
<text x="1014" y="1223" class="b" textLength="34" lengthAdjust="spacingAndGlyphs">196 m.</text>

<text x="138" y="1262" class="b" font-size="9.5" textLength="295" lengthAdjust="spacingAndGlyphs">FUENTE: NAVANTIA Y ARMADA ESPAÑOLA, ILUSTRACIÓN PRINCIPAL: NAVANTIA</text>
<text x="960" y="1262" class="b" font-size="9.5" textLength="115" lengthAdjust="spacingAndGlyphs">MIGUEL GÓMEZ / LA GACETA</text>
</svg>
</body></html>
